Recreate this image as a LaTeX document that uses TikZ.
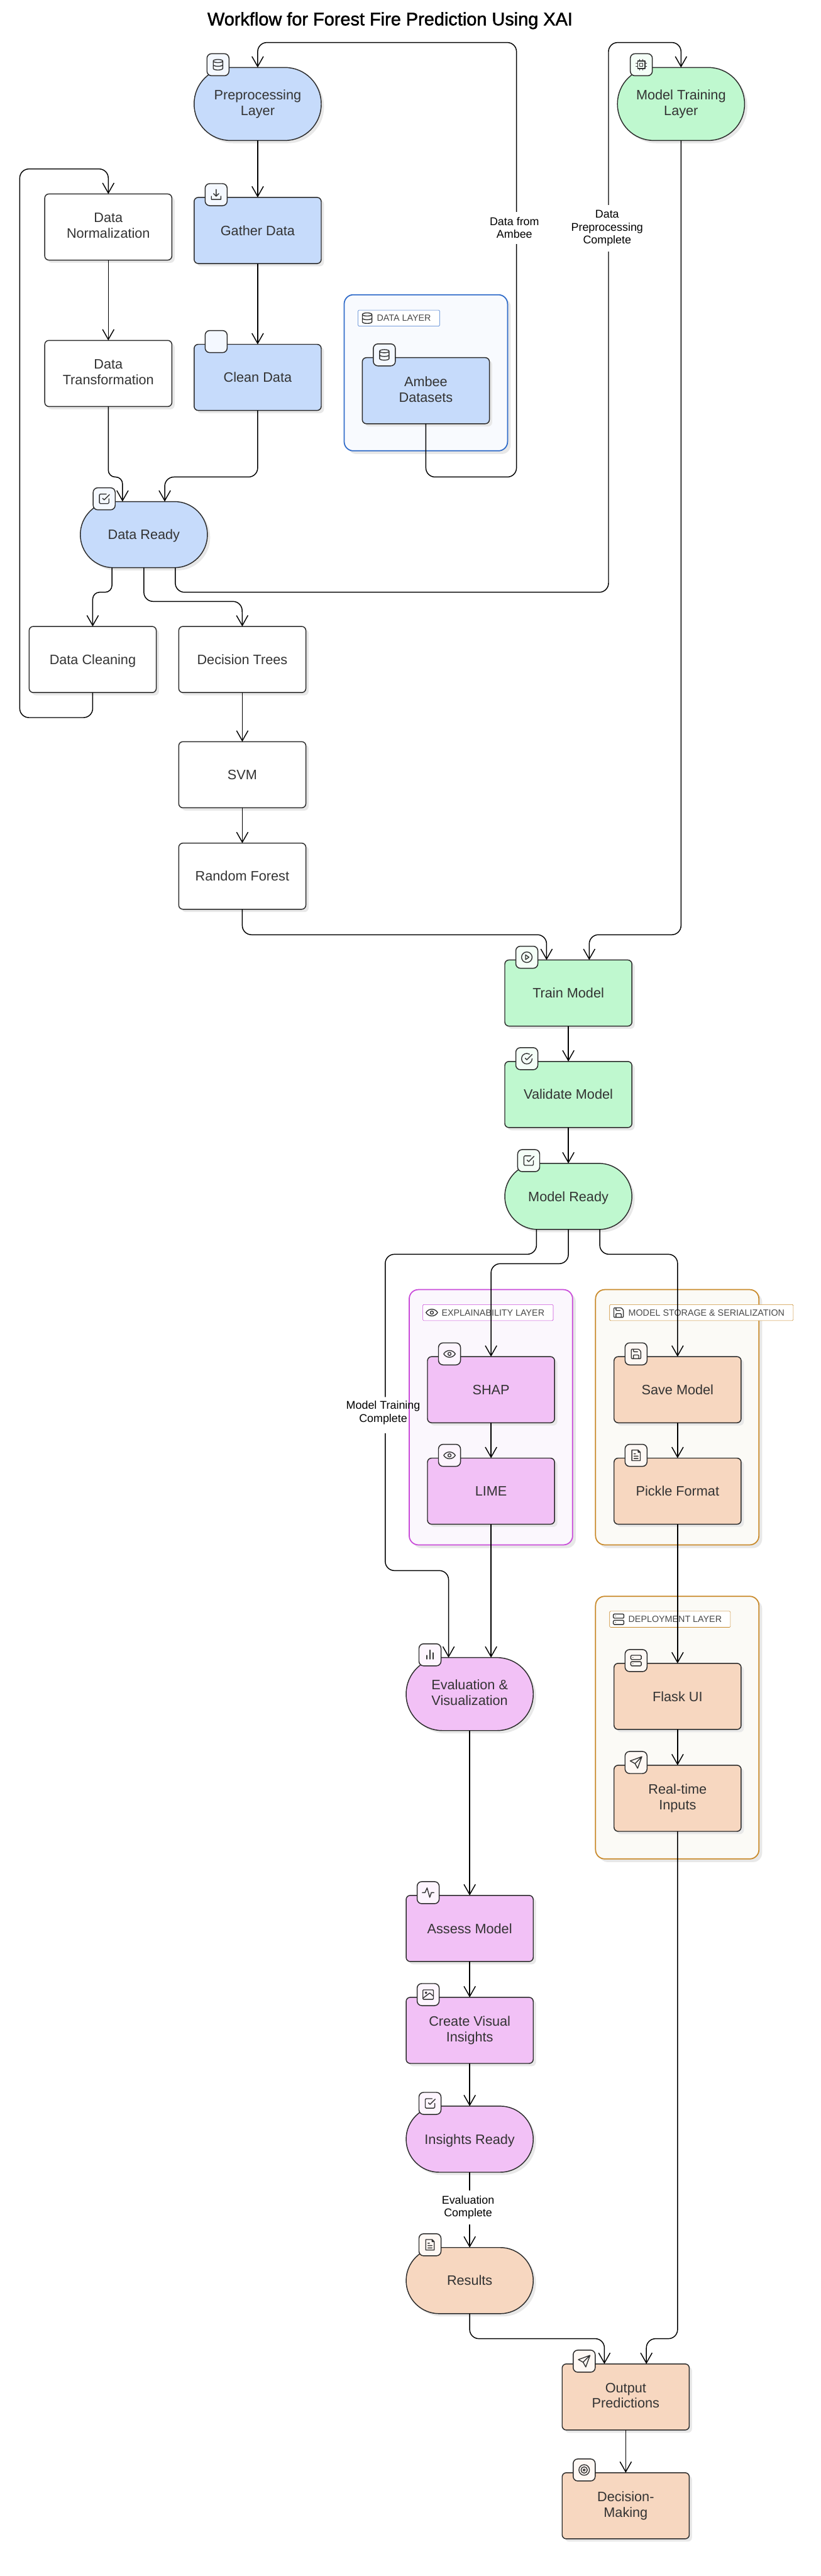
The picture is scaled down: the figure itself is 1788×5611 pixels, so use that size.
\documentclass[tikz,border=0pt]{standalone}
\usepackage{fontspec}
\setmainfont{Liberation Sans}
\newfontfamily\titlefont[FakeBold=1.6]{Liberation Sans}
\usepackage{xcolor}
\definecolor{ink}{HTML}{2B2B2B}
\definecolor{label}{HTML}{333333}
\definecolor{shade}{HTML}{E8E8E8}
\definecolor{bluefill}{HTML}{C6DBFB}
\definecolor{bluetint}{HTML}{F4F8FF}
\definecolor{greenfill}{HTML}{BFF8CF}
\definecolor{greentint}{HTML}{F4FEF7}
\definecolor{pinkfill}{HTML}{F2C1F6}
\definecolor{pinktint}{HTML}{FDF5FE}
\definecolor{peachfill}{HTML}{F7D7C0}
\definecolor{peachtint}{HTML}{FEF8F4}
\definecolor{plainfill}{HTML}{FFFFFF}
\definecolor{dataline}{HTML}{2F6BC9}
\definecolor{datasoft}{HTML}{F8FAFE}
\definecolor{xailine}{HTML}{C94BD9}
\definecolor{xaisoft}{HTML}{FBF7FD}
\definecolor{storeline}{HTML}{C98A2B}
\definecolor{storesoft}{HTML}{FBFAF6}
\usetikzlibrary{arrows.meta,positioning,backgrounds,calc,shadows}
\tikzset{
  stage/.style={draw=ink, line width=2pt, fill=#1fill, align=center, text=label, outer sep=0pt,
    font=\fontsize{29.7}{34}\selectfont, minimum width=277pt, minimum height=144pt, rounded corners=9pt,
    execute at begin node={\rule{0pt}{27.5pt}}, execute at end node={\rule[-6.5pt]{0pt}{0pt}},
    drop shadow={shadow xshift=6pt, shadow yshift=-6pt, fill=shade, opacity=1}},
  stage/.default=plain,
  ready/.style={stage=#1, rounded corners=72pt},
  layer/.style={stage=#1, minimum height=159pt, rounded corners=79pt},
  group/.style={draw=#1line, fill=#1soft, line width=2.4pt, rounded corners=20pt,
    drop shadow={shadow xshift=7pt, shadow yshift=-7pt, fill=shade, opacity=1}},
  pill/.style={draw=#1line, fill=white, line width=0.8pt, rounded corners=2pt, anchor=west, text=label!90,
    font=\fontsize{19.6}{23}\selectfont, minimum height=35pt, inner xsep=19pt, inner ysep=0pt},
  iconbox/.style={draw=ink, line width=2pt, fill=#1tint, rounded corners=10pt, minimum size=48pt, inner sep=0pt},
  arrow/.style={-{Straight Barb[length=22pt, width=25pt]}, draw=black, line width=2pt, rounded corners=20pt},
  link/.style={draw=black, line width=2pt, rounded corners=20pt},
  note/.style={fill=white, align=center, text=black, font=\fontsize{24.5}{28}\selectfont, inner xsep=2pt, inner ysep=12pt},
  glyph/.style={draw=label, line width=1.9pt, line join=round, line cap=round, scale=1.15},
  blank/.pic={},
  database/.pic={\draw[glyph] (0,7) ellipse (9 and 3) (-9,7) -- (-9,-7) arc (180:360:9 and 3) -- (9,7) (-9,0) arc (180:360:9 and 3);},
  download/.pic={\draw[glyph] (0,10) -- (0,-3) (-5,2) -- (0,-3) -- (5,2) (-9,-3) -- (-9,-9) -- (9,-9) -- (9,-3);},
  cpu/.pic={\draw[glyph] (-7,-7) rectangle (7,7) (-3,-3) rectangle (3,3);
    \foreach \s in {-3,3} \draw[glyph] (\s,7) -- (\s,10) (\s,-7) -- (\s,-10) (7,\s) -- (10,\s) (-7,\s) -- (-10,\s);},
  checked/.pic={\draw[glyph, rounded corners=2pt] (9,0) -- (9,-9) -- (-9,-9) -- (-9,9) -- (4,9);
    \draw[glyph] (-3,1) -- (0,-2) -- (10,8);},
  play/.pic={\draw[glyph] (0,0) circle (10) (-2.5,-4.5) -- (4,0) -- (-2.5,4.5) -- cycle;},
  circled/.pic={\draw[glyph] (10,0) arc (0:-300:10) (-3,1) -- (0,-2) -- (10,8);},
  eye/.pic={\draw[glyph] (-11,0) .. controls (-6,8.5) and (6,8.5) .. (11,0) .. controls (6,-8.5) and (-6,-8.5) .. (-11,0) -- cycle (0,0) circle (3);},
  floppy/.pic={\draw[glyph, rounded corners=1.5pt] (-9,9) -- (5,9) -- (9,5) -- (9,-9) -- (-9,-9) -- cycle (5,-9) -- (5,-2) -- (-5,-2) -- (-5,-9) (-5,9) -- (-5,4) -- (3,4);},
  sheet/.pic={\draw[glyph] (-8,10) -- (4,10) -- (8,6) -- (8,-10) -- (-8,-10) -- cycle (4,10) -- (4,6) -- (8,6) (-4,3) -- (-1,3) (-4,-1.5) -- (4,-1.5) (-4,-6) -- (4,-6);},
  server/.pic={\draw[glyph, rounded corners=2pt] (-10,2) rectangle (10,10) (-10,-10) rectangle (10,-2);
    \draw[glyph] (-6,6) -- (-5.9,6) (-6,-6) -- (-5.9,-6);},
  send/.pic={\draw[glyph] (11,11) -- (-11,3) -- (-2,-2) -- (3,-11) -- cycle (11,11) -- (-2,-2);},
  bars/.pic={\draw[glyph] (-6,-8) -- (-6,-1) (0,-8) -- (0,9) (6,-8) -- (6,4);},
  pulse/.pic={\draw[glyph] (-11,0) -- (-6,0) -- (-2,9) -- (3,-9) -- (6,0) -- (11,0);},
  photo/.pic={\draw[glyph, rounded corners=1.5pt] (-10,-9) rectangle (10,9);
    \draw[glyph] (-4,3.5) circle (1.5) (-10,-7) -- (3,3) -- (10,-3);},
  target/.pic={\draw[glyph] (0,0) circle (10) (0,0) circle (6) (0,0) circle (2);},
}
\begin{document}
\begin{tikzpicture}[x=1pt, y=1pt, node distance=77pt and 49pt]
  \useasboundingbox (0,0) rectangle (1788,-5611);
  \node[font=\titlefont\fontsize{39.6}{46}\selectfont, text=black] (title) at (850,-45) {Workflow for Forest Fire Prediction Using XAI};
  % preprocessing side
  \node[layer=blue] (prep) at (561.5,-226.5) {Preprocessing\\Layer};
  \node[stage=blue, below=124pt of prep] (gather) {Gather Data};
  \node[stage=blue, below=176pt of gather] (clean) {Clean Data};
  \node[stage=blue] (ambee) at (928,-851) {Ambee\\Datasets};
  \node[stage] (norm) at (236,-494.5) {Data\\Normalization};
  \node[stage, below=175pt of norm] (trans) {Data\\Transformation};
  \node[ready=blue] (dataready) at (313.5,-1164.5) {Data Ready};
  \node[stage] (cleaning) at (202,-1436.5) {Data Cleaning};
  \node[stage, right=of cleaning] (trees) {Decision Trees};
  \node[stage, below=107pt of trees] (svm) {SVM};
  \node[stage, below=of svm] (forest) {Random Forest};
  % training side
  \node[layer=green] (training) at (1484,-226.5) {Model Training\\Layer};
  \node[stage=green] (train) at (1238.5,-2163) {Train Model};
  \node[stage=green, below=of train] (validate) {Validate Model};
  \node[ready=green, below=78pt of validate] (modelready) {Model Ready};
  \node[stage=pink] (shap) at (1070,-3027) {SHAP};
  \node[stage=pink, below=of shap] (lime) {LIME};
  \node[stage=peach] (save) at (1476.5,-3027) {Save Model};
  \node[stage=peach, below=of save] (pickle) {Pickle Format};
  \node[stage=peach] (flask) at (1476.5,-3695) {Flask UI};
  \node[stage=peach, below=78pt of flask] (realtime) {Real-time\\Inputs};
  % evaluation and output
  \node[layer=pink] (evalviz) at (1023.5,-3690) {Evaluation \&\\Visualization};
  \node[stage=pink] (assess) at (1023.5,-4200.5) {Assess Model};
  \node[stage=pink, below=78pt of assess] (visual) {Create Visual\\Insights};
  \node[ready=pink, below=93pt of visual] (insights) {Insights Ready};
  \node[ready=peach, below=164pt of insights] (results) {Results};
  \node[stage=peach] (output) at (1363.5,-5221) {Output\\Predictions};
  \node[stage=peach, below=93pt of output] (decide) {Decision-\\Making};
  \begin{scope}[on background layer]
    \fill[white] (0,0) rectangle (1788,-5611);
    \node[group=data, minimum width=356pt, minimum height=340pt] (datagroup) at (928,-812) {};
    \node[group=xai, minimum width=356pt, minimum height=556pt] (xaigroup) at (1069.75,-3087) {};
    \node[group=store, minimum width=356pt, minimum height=556pt] (storegroup) at (1475.75,-3087) {};
    \node[group=store, minimum width=356pt, minimum height=572pt] (deploygroup) at (1475.75,-3763) {};
    \node[pill=data] (datapill) at (780,-693) {\hspace*{22pt}DATA LAYER};
    \node[pill=xai] (xaipill) at (921,-2859) {\hspace*{22pt}EXPLAINABILITY LAYER};
    \node[pill=store] (storepill) at (1328,-2859) {\hspace*{22pt}MODEL STORAGE \& SERIALIZATION};
    \node[pill=store] (deploypill) at (1328,-3527) {\hspace*{22pt}DEPLOYMENT LAYER};
    \pic at ($(datapill.west)+(20,0)$) {database};
    \pic at ($(xaipill.west)+(20,0)$) {eye};
    \pic at ($(storepill.west)+(20,0)$) {floppy};
    \pic at ($(deploypill.west)+(20,0)$) {server};
  \end{scope}
  % straight connectors
  \foreach \a/\b in {prep/gather, gather/clean, norm/trans, trees/svm, svm/forest, train/validate, validate/modelready,
      shap/lime, save/pickle, pickle/flask, flask/realtime, evalviz/assess, assess/visual, visual/insights, output/decide}
    \draw[arrow] (\a) -- (\b);
  % bent connectors
  \draw[arrow] (ambee.south) |- (1125.5,-1039) -- (1125.5,-92.6) -| (prep.north);
  \draw[arrow, rounded corners=15pt] (trans.south) |- (267,-1039) -- ($(dataready.north)+(-46.5,0)$);
  \draw[arrow] (clean.south) |- (359,-1039) -- ($(dataready.north)+(45.5,0)$);
  \draw[arrow, rounded corners=15pt] ($(dataready.south)+(-69.5,0)$) |- (202,-1290) -- (cleaning.north);
  \draw[arrow] (dataready.south) |- (527.5,-1310) -- (trees.north);
  \draw[arrow] ($(dataready.south)+(68.5,0)$) |- (1326,-1290) -- (1326,-92.6) -| (training.north);
  \draw[arrow] (cleaning.south) |- (43,-1563) -- (43,-368) -| (norm.north);
  \draw[arrow] (forest.south) |- (1191,-2036) -- ($(train.north)+(-47.5,0)$);
  \draw[arrow] (training.south) |- (1284,-2036) -- ($(train.north)+(45.5,0)$);
  \draw[arrow] (modelready.south) |- (1070,-2752.5) -- (shap.north);
  \draw[arrow] ($(modelready.south)+(68.5,0)$) |- (1476.5,-2732) -- (save.north);
  \draw[arrow] (lime.south) -- ($(evalviz.north)+(46.5,0)$);
  \draw[arrow] (insights) -- (results);
  \draw[arrow] (results.south) |- (1317,-5094) -- ($(output.north)+(-46.5,0)$);
  \draw[arrow] (realtime.south) |- (1408.5,-5094) -- ($(output.north)+(45,0)$);
  % connector labels
  \node[note] (ambeenote) at (1121,-496) {Data from\\Ambee};
  \node[note] (prepnote) at (1323,-497) {Data\\Preprocessing\\Complete};
  \node[note] (evalnote) at (1020,-4808) {Evaluation\\Complete};
  \node[note, fill=none] (trainnote) at (835,-3077) {Model Training\\Complete};
  \draw[link] ($(modelready.south)+(-69.5,0)$) |- (839.5,-2732) -- (839.5,-3043);
  \draw[arrow] (839.5,-3122) |- (977.5,-3421) -- ($(evalviz.north)+(-46,0)$);
  % icons on the boxes
  \foreach \n/\c/\g in {gather/blue/download, clean/blue/blank, ambee/blue/database, train/green/play, validate/green/circled,
      shap/pink/eye, lime/pink/eye, save/peach/floppy, pickle/peach/sheet, flask/peach/server, realtime/peach/send,
      assess/pink/pulse, visual/pink/photo, output/peach/send, decide/peach/target} {
    \node[iconbox=\c] (\n icon) at ($(\n.north west)+(48,6)$) {};
    \pic at (\n icon) {\g};
  }
  \foreach \n/\c/\g in {prep/blue/database, dataready/blue/checked, training/green/cpu, modelready/green/checked,
      evalviz/pink/bars, insights/pink/checked, results/peach/sheet} {
    \node[iconbox=\c] (\n icon) at ($(\n.north west)+(52,6)$) {};
    \pic at (\n icon) {\g};
  }
\end{tikzpicture}
\end{document}
